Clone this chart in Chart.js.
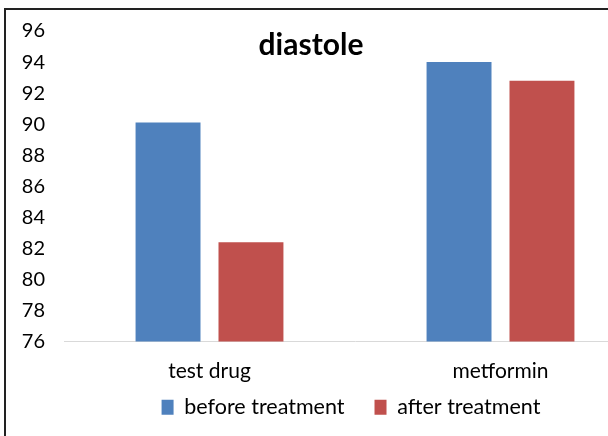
<!DOCTYPE html>
<html>
<head>
<meta charset="utf-8">
<script src="https://cdn.jsdelivr.net/npm/chart.js@4"></script>
<style>
  html, body { margin: 0; padding: 0; width: 608px; height: 436px; overflow: hidden; background: #fff; }
  #frame { position: absolute; left: 4px; top: 8px; width: 700px; height: 500px; border: 2px solid #222; }
  #wrap { position: absolute; left: 0; top: 0; width: 710px; height: 448px; }
</style>
</head>
<body>
<div id="frame"></div>
<div id="wrap"><canvas id="chart"></canvas></div>
<script>
const categories = ['test drug', 'metformin'];
const beforeTreatment = [90.1, 94.0];
const afterTreatment = [82.4, 92.8];
const yTicks = [76, 78, 80, 82, 84, 86, 88, 90, 92, 94, 96];

const fontFamily = 'Lato, "Open Sans", sans-serif';

// title sits inside the plot area, so draw it by hand
const titlePlugin = {
  id: 'insideTitle',
  afterLayout(chart) {
    // pull the legend up closer to the category labels
    chart.legend.top -= 20;
    chart.legend.bottom -= 20;
  },
  afterDraw(chart) {
    const c = chart.ctx;
    c.save();
    c.font = 'bold 30px ' + fontFamily;
    c.fillStyle = '#000';
    c.textAlign = 'center';
    c.textBaseline = 'middle';
    c.fillText('diastole', 311, 45);
    c.restore();
  }
};

const ctx = document.getElementById('chart').getContext('2d');
new Chart(ctx, {
  type: 'bar',
  data: {
    labels: categories,
    datasets: [{
      label: 'before treatment',
      data: beforeTreatment,
      backgroundColor: '#4F81BD',
      categoryPercentage: 0.57,
      barPercentage: 0.783
    }, {
      label: 'after treatment',
      data: afterTreatment,
      backgroundColor: '#C0504D',
      categoryPercentage: 0.57,
      barPercentage: 0.783
    }]
  },
  options: {
    responsive: true,
    maintainAspectRatio: false,
    animation: false,
    layout: { padding: { left: 0, right: 8, top: 31, bottom: 0 } },
    scales: {
      x: {
        afterFit(scale) { scale.height = 45; },
        grid: { display: false },
        border: { display: true, color: '#d9d9d9', width: 1 },
        ticks: { color: '#000', font: { family: fontFamily, size: 21 }, padding: 9 }
      },
      y: {
        min: 76,
        max: 96,
        afterBuildTicks(scale) { scale.ticks = yTicks.map(v => ({ value: v })); },
        afterFit(scale) { scale.width = 64; },
        grid: { display: false },
        border: { display: false },
        ticks: { color: '#000', font: { family: fontFamily, size: 20 }, padding: 11 }
      },
      // empty spacer on the right so the legend centres like the original
      spacer: {
        position: 'right',
        afterFit(scale) { scale.width = 56; },
        grid: { display: false },
        border: { display: false },
        ticks: { display: false }
      }
    },
    plugins: {
      legend: {
        position: 'bottom',
        labels: {
          color: '#000',
          font: { family: fontFamily, size: 21.5 },
          boxWidth: 12,
          boxHeight: 15,
          padding: 30
        }
      },
      tooltip: { enabled: false }
    }
  },
  plugins: [titlePlugin]
});
</script>
</body>
</html>
